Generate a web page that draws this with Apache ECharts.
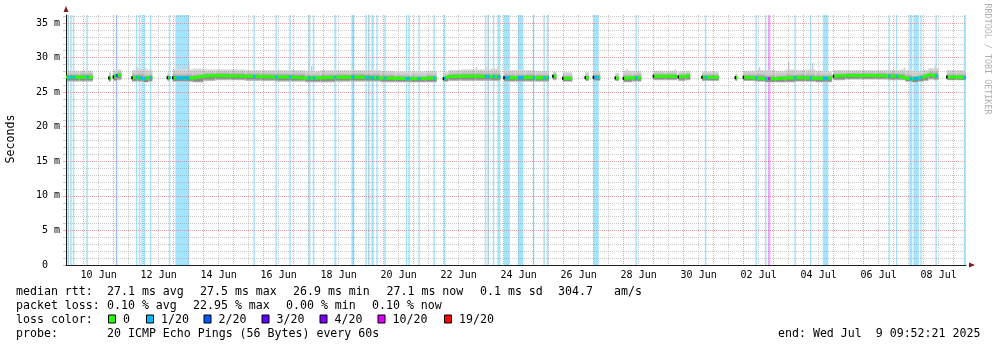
<!DOCTYPE html>
<html>
<head>
<meta charset="utf-8">
<title>Median RTT - last 30 days</title>
<script src="https://cdn.jsdelivr.net/npm/echarts@6/dist/echarts.min.js"></script>
<style>
  html, body { margin: 0; padding: 0; background: #ffffff; }
  #chart { width: 997px; height: 347px; }
</style>
</head>
<body>
<div id="chart"></div>
<script>
// Time is expressed in days since 9 Jun 2025 00:00.
const VIEW_END = 30 + (9 + 52 / 60 + 21 / 3600) / 24;   // Wed 9 Jul 2025 09:52:21
const VIEW_START = VIEW_END - 30;                        // 30-day window
const Y_MAX = 36.16;                                     // milliseconds

// x-axis labels, centred on noon of the labelled day
const dayLabels = ['10 Jun', '12 Jun', '14 Jun', '16 Jun', '18 Jun', '20 Jun', '22 Jun', '24 Jun',
                   '26 Jun', '28 Jun', '30 Jun', '02 Jul', '04 Jul', '06 Jul', '08 Jul'];
const dayLabelAt = [1.5, 3.5, 5.5, 7.5, 9.5, 11.5, 13.5, 15.5, 17.5, 19.5, 21.5, 23.5, 25.5, 27.5, 29.5];

// y-axis labels (value in ms)
const yTickValues = [0, 5, 10, 15, 20, 25, 30, 35];
const yTickLabels = ['0  ', '5 m', '10 m', '15 m', '20 m', '25 m', '30 m', '35 m'];

// packet-loss colour scale
const lossLabels = ['0', '1/20', '2/20', '3/20', '4/20', '10/20', '19/20'];
const lossColors = ['#26ff00', '#00b8ff', '#0059ff', '#5e00ff', '#7e00ff', '#dd00ff', '#ff0000'];

// Summary rows
const rttStats  = ['27.1 ms avg', '27.5 ms max', '26.9 ms min', '27.1 ms now', '0.1 ms sd', '304.7', 'am/s'];
const lossStats = ['0.10 % avg', '22.95 % max', '0.00 % min', '0.10 % now'];
const probeText = '20 ICMP Echo Pings (56 Bytes) every 60s';
const endText   = 'end: Wed Jul  9 09:52:21 2025';

// Periods with replies. Each sample: [day, median ms, lowest ping ms, highest ping ms]
const replyRuns = [
  [[0.412, 27.15, 26.5, 28.1], [0.86, 27.2, 26.5, 28.15], [1.31, 27.15, 26.5, 28.1]],
  [[1.84, 27.05, 26.5, 27.9], [1.91, 27.05, 26.5, 27.9]],
  [[1.99, 27.2, 26.6, 28.2], [2.12, 27.45, 26.7, 28.3], [2.26, 27.5, 26.8, 28.3]],
  [[2.61, 27.1, 26.5, 28.2], [2.79, 27.15, 26.5, 28.4], [2.99, 26.95, 26.4, 28.3], [3.16, 27.1, 26.5, 28.3], [3.29, 27.15, 26.5, 28.2]],
  [[3.79, 27.1, 26.6, 27.8], [3.86, 27.1, 26.6, 27.8]],
  [[3.97, 27.1, 26.5, 28.3], [4.62, 27.05, 26.4, 28.4], [4.99, 27.3, 26.6, 28.3], [5.39, 27.4, 26.7, 28.3],
   [5.89, 27.35, 26.7, 28.3], [6.39, 27.3, 26.6, 28.2], [6.89, 27.25, 26.6, 28.2], [7.39, 27.2, 26.5, 28.2],
   [7.89, 27.2, 26.5, 28.2], [8.39, 27.05, 26.4, 28.1], [8.89, 27.1, 26.4, 28.2], [9.39, 27.15, 26.5, 28.2],
   [9.89, 27.2, 26.5, 28.2], [10.39, 27.15, 26.5, 28.2], [10.89, 27.05, 26.4, 28.1], [11.39, 27.0, 26.4, 28.0],
   [11.89, 26.95, 26.4, 28.0], [12.39, 27.0, 26.4, 28.1], [12.77, 27.05, 26.4, 28.0]],
  [[12.99, 26.95, 26.5, 27.9], [13.16, 27.25, 26.6, 28.2], [13.56, 27.3, 26.6, 28.3], [14.06, 27.3, 26.6, 28.3],
   [14.56, 27.25, 26.6, 28.4], [14.89, 27.2, 26.6, 28.3]],
  [[15.01, 27.1, 26.5, 28.2], [15.39, 27.1, 26.5, 28.2], [15.72, 27.15, 26.5, 28.2], [16.06, 27.1, 26.5, 28.1], [16.51, 27.1, 26.5, 28.1]],
  [[16.64, 27.3, 26.7, 28.0], [16.76, 27.3, 26.7, 28.0]],
  [[16.97, 27.0, 26.5, 27.9], [17.29, 27.0, 26.5, 27.9]],
  [[17.72, 27.1, 26.6, 27.9], [17.84, 27.1, 26.6, 27.9]],
  [[17.99, 27.15, 26.6, 28.0], [18.22, 27.15, 26.6, 28.0]],
  [[18.72, 27.05, 26.6, 27.8], [18.84, 27.05, 26.6, 27.8]],
  [[18.99, 27.0, 26.4, 28.1], [19.29, 27.1, 26.5, 28.1], [19.59, 27.1, 26.5, 28.0]],
  [[19.99, 27.3, 26.7, 28.1], [20.39, 27.3, 26.7, 28.1], [20.79, 27.25, 26.7, 28.1]],
  [[20.82, 27.2, 26.6, 28.0], [21.06, 27.3, 26.7, 28.1], [21.22, 27.45, 26.8, 28.1]],
  [[21.61, 27.15, 26.6, 28.0], [22.17, 27.15, 26.6, 28.0]],
  [[22.72, 27.1, 26.6, 27.7], [22.79, 27.1, 26.6, 27.7]],
  [[22.99, 27.15, 26.6, 28.1], [23.39, 27.1, 26.5, 28.2], [23.72, 26.95, 26.4, 28.2], [24.06, 26.95, 26.4, 28.1],
   [24.39, 27.05, 26.4, 28.3], [24.72, 27.1, 26.5, 28.2], [25.06, 27.1, 26.5, 28.3], [25.39, 27.0, 26.4, 28.1],
   [25.72, 27.0, 26.4, 28.0], [25.94, 27.05, 26.4, 28.0]],
  [[25.99, 27.3, 26.7, 28.2], [26.39, 27.4, 26.8, 28.2], [26.89, 27.4, 26.8, 28.2], [27.39, 27.4, 26.8, 28.2],
   [27.79, 27.35, 26.7, 28.2], [28.22, 27.3, 26.7, 28.3], [28.39, 27.05, 26.5, 28.2], [28.62, 26.9, 26.4, 28.1],
   [28.82, 27.05, 26.5, 28.1], [28.99, 27.2, 26.6, 28.2], [29.16, 27.5, 26.8, 28.5], [29.32, 27.45, 26.7, 28.5],
   [29.49, 27.2, 26.6, 28.3]],
  [[29.77, 27.2, 26.7, 28.2], [30.09, 27.2, 26.7, 28.2], [30.41, 27.1, 26.6, 28.2]]
];

// Isolated slow pings above the smoke: [day, ms]
const smokeSpikes = [
  [1.50, 28.4], [2.79, 28.6], [3.06, 28.5], [4.17, 28.9], [4.33, 28.8], [4.50, 28.9],
  [8.60, 28.8], [14.09, 28.6], [14.42, 28.6], [14.82, 28.6], [19.12, 28.4], [20.72, 28.3],
  [23.53, 28.6], [24.50, 29.4], [25.30, 29.2], [28.36, 28.6], [29.39, 28.8]
];

// Intervals with packet loss: [start day, end day, loss level index]
const lossBands = [
  [0.456, 0.506, 1], [0.556, 0.606, 1], [0.639, 0.689, 1], [1.089, 1.139, 1], [2.072, 2.122, 2],
  [2.739, 2.789, 1], [2.839, 2.889, 1], [2.922, 2.972, 1], [3.006, 3.056, 1], [3.206, 3.256, 1],
  [3.839, 3.889, 1], [4.056, 4.522, 1], [6.656, 6.706, 1], [7.389, 7.439, 1], [7.856, 7.906, 1],
  [8.489, 8.556, 1], [8.639, 8.689, 1], [9.356, 9.422, 1], [9.922, 10.022, 1], [10.389, 10.439, 1],
  [10.489, 10.539, 1], [10.589, 10.672, 1], [10.756, 10.806, 1], [11.022, 11.072, 1], [11.739, 11.789, 1],
  [11.822, 11.872, 1], [12.156, 12.206, 1], [12.656, 12.706, 1], [13.006, 13.056, 1], [14.372, 14.422, 1],
  [14.456, 14.506, 1], [14.639, 14.689, 1], [14.789, 14.889, 1], [15.006, 15.206, 1], [15.472, 15.656, 1],
  [15.972, 16.022, 1], [16.322, 16.372, 1], [16.439, 16.489, 1], [17.989, 18.172, 1], [19.389, 19.439, 1],
  [21.706, 21.756, 1], [23.389, 23.439, 1], [23.706, 23.756, 1], [23.806, 23.889, 5], [24.689, 24.739, 1],
  [25.206, 25.256, 1], [25.639, 25.822, 1], [27.822, 27.872, 1], [28.072, 28.122, 1], [28.522, 28.622, 1],
  [28.656, 28.839, 1], [28.889, 28.939, 1], [29.389, 29.439, 1], [30.339, 30.411, 1]
];

// ---------- derived drawing data ----------
function runAt(d0, d1) {
  return replyRuns.find(r => d1 >= r[0][0] - 0.02 && d0 <= r[r.length - 1][0] + 0.02);
}
function interp(run, day, k) {
  if (day <= run[0][0]) return run[0][k];
  for (let i = 0; i < run.length - 1; i++) {
    if (day <= run[i + 1][0]) {
      const f = (day - run[i][0]) / (run[i + 1][0] - run[i][0]);
      return run[i][k] + f * (run[i + 1][k] - run[i][k]);
    }
  }
  return run[run.length - 1][k];
}

const medianLine = [];
replyRuns.forEach((run, i) => {
  if (i > 0) medianLine.push(['-', '-']);
  run.forEach(s => medianLine.push([s[0], s[1]]));
});

const smokeCells = [];
replyRuns.forEach(run => {
  for (let i = 0; i < run.length - 1; i++) {
    smokeCells.push([run[i][0], run[i + 1][0], run[i][2], run[i][3], run[i][1]]);
  }
});

const spikeBars = smokeSpikes.map(s => {
  const run = runAt(s[0], s[0]);
  return [s[0], s[1], run ? interp(run, s[0], 1) : s[1]];
});

const lossMedian = lossBands.map(b => {
  const run = runAt(b[0], b[1]);
  if (!run) return null;
  const mid = Math.min(Math.max((b[0] + b[1]) / 2, run[0][0]), run[run.length - 1][0]);
  return [b[0], b[1], b[2], interp(run, mid, 1)];
}).filter(Boolean);

const runStarts = replyRuns.slice(1).map(r => [r[0][0], r[0][1]]);

const midnights = [];
for (let d = Math.ceil(VIEW_START); d < VIEW_END; d++) midnights.push(d);
const noons = [];
for (let d = Math.ceil(VIEW_START - 0.5) + 0.5; d < VIEW_END; d++) noons.push(d);
const minorY = [];
for (let v = 1; v <= Y_MAX; v++) if (v % 5 !== 0) minorY.push(v);

// ---------- styles ----------
const GRID_MINOR = 'rgba(150,150,150,0.5)';
const GRID_MAJOR = 'rgba(222,79,79,0.5)';
const AXIS_COLOR = '#1f1f1f';
const ARROW_COLOR = '#801f1f';
const MONO = '"DejaVu Sans Mono", monospace';

// ---------- renderers ----------
function renderLossBand(params, api) {
  const a = api.coord([api.value(0), Y_MAX]);
  const b = api.coord([api.value(1), 0]);
  return {
    type: 'rect',
    shape: { x: a[0], y: a[1], width: Math.max(b[0] - a[0], 1.5), height: b[1] - a[1] },
    style: { fill: lossColors[api.value(2)], opacity: 0.36 }
  };
}

function renderSpike(params, api) {
  const top = api.coord([api.value(0), api.value(1)]);
  const base = api.coord([api.value(0), api.value(2)]);
  return {
    type: 'rect',
    shape: { x: top[0] - 0.75, y: top[1], width: 1.5, height: base[1] - top[1] },
    style: { fill: '#cccccc' }
  };
}

function renderSmoke(params, api) {
  const x0 = api.coord([api.value(0), 0])[0];
  const x1 = api.coord([api.value(1), 0])[0];
  const yLo = api.coord([0, api.value(2)])[1];
  const yHi = api.coord([0, api.value(3)])[1];
  const yMed = api.coord([0, api.value(4)])[1];
  const t = Math.min(Math.max((yMed - yHi) / (yLo - yHi), 0.05), 0.95);
  return {
    type: 'rect',
    shape: { x: x0, y: yHi, width: x1 - x0, height: yLo - yHi },
    style: {
      fill: {
        type: 'linear', x: 0, y: 0, x2: 0, y2: 1,
        colorStops: [
          { offset: 0, color: '#dcdcdc' },
          { offset: Math.max(t - 0.3, 0.01), color: '#c6c6c6' },
          { offset: t, color: '#8e8e8e' },
          { offset: Math.min(t + 0.22, 0.99), color: '#8a8a8a' },
          { offset: 1, color: '#cfcfcf' }
        ]
      }
    }
  };
}

function renderLossMedian(params, api) {
  const a = api.coord([api.value(0), api.value(3)]);
  const b = api.coord([api.value(1), api.value(3)]);
  const w = Math.max(b[0] - a[0], 2);
  return {
    type: 'rect',
    shape: { x: a[0], y: a[1] - 1.5, width: w, height: 3 },
    style: { fill: lossColors[api.value(2)] }
  };
}

function renderRunStart(params, api) {
  const p = api.coord([api.value(0), api.value(1)]);
  return {
    type: 'rect',
    shape: { x: p[0] - 0.75, y: p[1] - 1.5, width: 1.5, height: 3 },
    style: { fill: '#000000' }
  };
}

// ---------- axes ----------
const xBase = { type: 'value', min: VIEW_START, max: VIEW_END, position: 'bottom', gridIndex: 0 };
const yBase = { type: 'value', min: 0, max: Y_MAX, position: 'left', gridIndex: 0 };

const xAxes = [
  Object.assign({}, xBase, {
    z: 4,
    axisLine: { show: true, onZero: false, lineStyle: { color: AXIS_COLOR, width: 1 } },
    axisTick: { show: false, customValues: midnights },
    axisLabel: { show: false },
    splitLine: { show: true, lineStyle: { color: GRID_MAJOR, width: 1, type: [1, 1] } }
  }),
  Object.assign({}, xBase, {
    z: 4,
    axisLine: { show: false },
    axisTick: { show: false, customValues: noons },
    axisLabel: { show: false },
    splitLine: { show: true, lineStyle: { color: GRID_MINOR, width: 1, type: [1, 1] } }
  }),
  Object.assign({}, xBase, {
    z: 4,
    axisLine: { show: false },
    axisTick: { show: false },
    splitLine: { show: false },
    axisLabel: {
      show: true, customValues: dayLabelAt, margin: 5, color: '#000000',
      fontFamily: MONO, fontSize: 10,
      formatter: v => dayLabels[dayLabelAt.findIndex(d => Math.abs(d - v) < 1e-6)] || ''
    }
  }),
  Object.assign({}, xBase, {
    z: 4,
    axisLine: {
      show: true, onZero: false, symbol: ['none', 'triangle'], symbolSize: [5, 6], symbolOffset: [0, 6],
      lineStyle: { color: ARROW_COLOR, width: 0 }
    },
    axisTick: { show: false }, axisLabel: { show: false }, splitLine: { show: false }
  })
];

const yAxes = [
  Object.assign({}, yBase, {
    z: 4,
    axisLine: { show: true, onZero: false, lineStyle: { color: AXIS_COLOR, width: 1 } },
    axisTick: { show: true, length: 3, customValues: yTickValues, lineStyle: { color: GRID_MAJOR } },
    axisLabel: {
      show: true, customValues: yTickValues, margin: 6, color: '#000000',
      fontFamily: MONO, fontSize: 10,
      formatter: v => yTickLabels[yTickValues.indexOf(Math.round(v))] || ''
    },
    splitLine: { show: true, lineStyle: { color: GRID_MAJOR, width: 1, type: [1, 1] } }
  }),
  Object.assign({}, yBase, {
    z: 4,
    axisLine: { show: false },
    axisTick: { show: true, length: 3, customValues: minorY, lineStyle: { color: GRID_MINOR } },
    axisLabel: { show: false },
    splitLine: { show: true, lineStyle: { color: GRID_MINOR, width: 1, type: [1, 1] } }
  }),
  Object.assign({}, yBase, {
    z: 4,
    axisLine: {
      show: true, onZero: false, symbol: ['none', 'triangle'], symbolSize: [5, 6], symbolOffset: [0, 6],
      lineStyle: { color: ARROW_COLOR, width: 0 }
    },
    axisTick: { show: false }, axisLabel: { show: false }, splitLine: { show: false }
  })
];

// ---------- text block below the plot ----------
const ROW_Y = [291.5, 305.5, 319.5, 333.5];
const LEFT_X = 16;
const VALUE_X = 107;
const rttX = [107, 200, 293, 386.5, 480, 558, 614];
const lossX = [107, 193, 286, 372];
const swatchX = [108, 146, 203.5, 261.5, 319.5, 377.5, 444];
const LEGEND_FONT = '11.6px ' + MONO;

function label(text, x, y, extra) {
  return Object.assign({
    type: 'text', x: x, y: y, silent: true,
    style: { text: text, fill: '#000000', font: LEGEND_FONT, verticalAlign: 'middle', align: 'left' }
  }, extra || {});
}

const graphics = [];
graphics.push(label('median rtt:', LEFT_X, ROW_Y[0]));
rttStats.forEach((s, i) => graphics.push(label(s, rttX[i], ROW_Y[0])));
graphics.push(label('packet loss:', LEFT_X, ROW_Y[1]));
lossStats.forEach((s, i) => graphics.push(label(s, lossX[i], ROW_Y[1])));
graphics.push(label('loss color:', LEFT_X, ROW_Y[2]));
lossLabels.forEach((s, i) => {
  graphics.push({
    type: 'rect', silent: true,
    shape: { x: swatchX[i] + 0.5, y: ROW_Y[2] - 4.5, width: 7, height: 8 },
    style: { fill: lossColors[i], stroke: '#000000', lineWidth: 1 }
  });
  graphics.push(label(s, swatchX[i] + 15, ROW_Y[2]));
});
graphics.push(label('probe:', LEFT_X, ROW_Y[3]));
graphics.push(label(probeText, VALUE_X, ROW_Y[3]));
graphics.push(label(endText, 778, ROW_Y[3]));
graphics.push({
  type: 'text', x: 11, y: 139, rotation: Math.PI / 2, silent: true,
  style: { text: 'Seconds', fill: '#000000', font: LEGEND_FONT, align: 'center', verticalAlign: 'middle' }
});
graphics.push({
  type: 'text', x: 987, y: 59, rotation: -Math.PI / 2, silent: true,
  style: { text: 'RRDTOOL / TOBI OETIKER', fill: '#b0b0b0', font: '8.4px ' + MONO, align: 'center', verticalAlign: 'middle' }
});

// ---------- chart ----------
const chart = echarts.init(document.getElementById('chart'), null, { renderer: 'canvas' });
chart.setOption({
  animation: false,
  backgroundColor: '#ffffff',
  grid: { left: 66, top: 15, width: 900, height: 250, containLabel: false, outerBoundsMode: 'none' },
  xAxis: xAxes,
  yAxis: yAxes,
  graphic: graphics,
  series: [
    { name: 'loss', type: 'custom', z: 1, clip: true, renderItem: renderLossBand, data: lossBands },
    { name: 'spikes', type: 'custom', z: 2, clip: true, renderItem: renderSpike, data: spikeBars },
    { name: 'smoke', type: 'custom', z: 3, clip: true, renderItem: renderSmoke, data: smokeCells },
    {
      name: 'median', type: 'line', z: 5, data: medianLine, symbol: 'none', connectNulls: false,
      lineStyle: { color: lossColors[0], width: 3 }, silent: true
    },
    { name: 'median loss', type: 'custom', z: 6, clip: true, renderItem: renderLossMedian, data: lossMedian },
    { name: 'run start', type: 'custom', z: 6, clip: true, renderItem: renderRunStart, data: runStarts }
  ]
});
</script>
</body>
</html>
